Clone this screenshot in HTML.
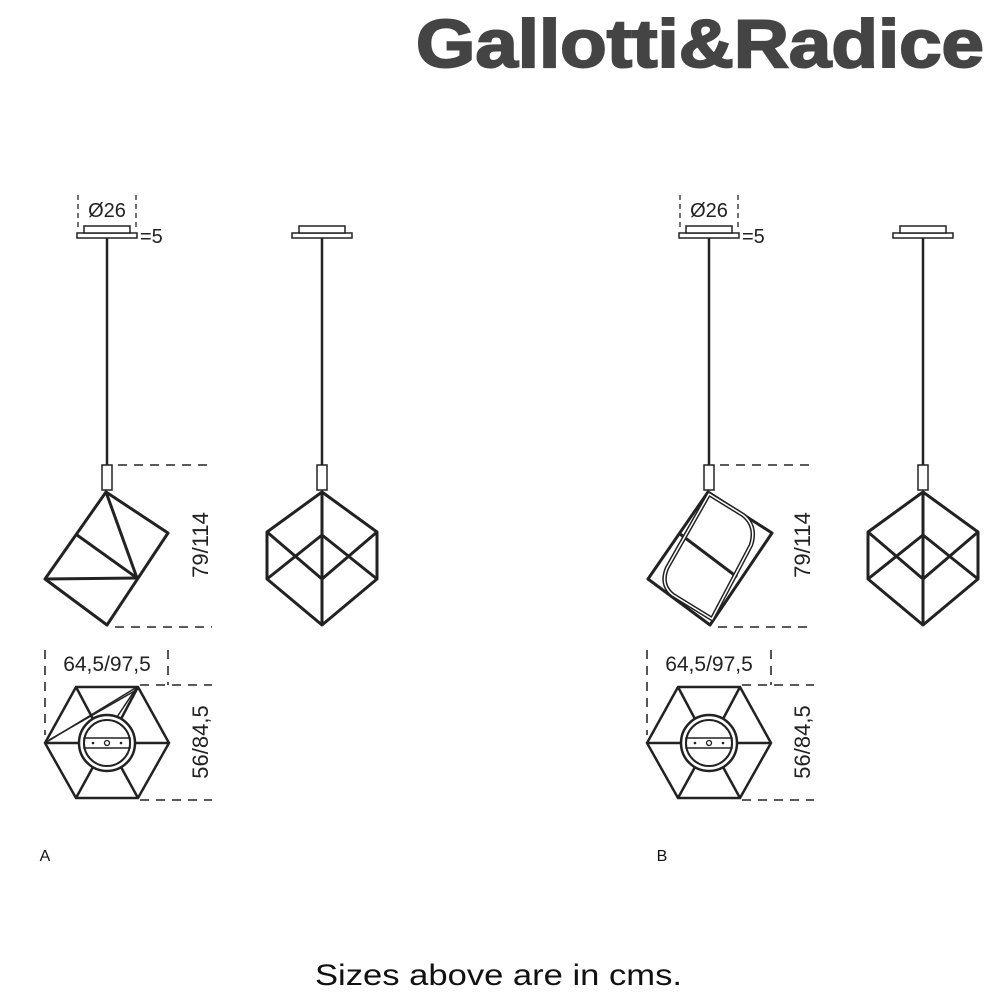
<!DOCTYPE html>
<html><head><meta charset="utf-8"><style>
html,body{margin:0;padding:0;background:#fff;}
svg{display:block;}
text{font-family:"Liberation Sans",Arial,sans-serif;}
</style></head><body>
<svg width="1000" height="1000" viewBox="0 0 1000 1000" xmlns="http://www.w3.org/2000/svg">
<rect width="1000" height="1000" fill="#fff"/>
<text x="416" y="67" font-size="68" font-weight="bold" fill="#444" stroke="#444" stroke-width="2" textLength="568" lengthAdjust="spacingAndGlyphs">Gallotti&amp;Radice</text>

<defs>
<g id="canopy">
  <rect x="-30" y="233" width="60" height="5" fill="#fff" stroke="#222" stroke-width="1.5"/>
  <rect x="-23" y="226" width="46" height="7" fill="#fff" stroke="#222" stroke-width="1.5"/>
  <line x1="0" y1="238" x2="0" y2="465" stroke="#222" stroke-width="2.5"/>
  <rect x="-5" y="465" width="10" height="25" fill="#fff" stroke="#222" stroke-width="1.5"/>
</g>
<g id="front">
  <g fill="none" stroke="#222" stroke-width="3" stroke-linejoin="round">
    <polygon points="0,492 55,532 55,579 0,625 -55,579 -55,532"/>
    <line x1="-55" y1="532" x2="0" y2="579"/><line x1="0" y1="579" x2="55" y2="532"/>
    <line x1="-55" y1="579" x2="0" y2="535"/><line x1="0" y1="535" x2="55" y2="579"/>
    <line x1="0" y1="492" x2="0" y2="625"/>
  </g>
</g>
<g id="top">
  <g fill="none" stroke="#222" stroke-width="2.5">
    <polygon points="-31,687 31,687 62,743 31,798 -31,798 -62,743"/>
    <line x1="-31" y1="687" x2="-14" y2="719"/><line x1="31" y1="687" x2="14" y2="719"/>
    <line x1="-31" y1="798" x2="-14" y2="767"/><line x1="31" y1="798" x2="14" y2="767"/>
    <line x1="-62" y1="743" x2="-28" y2="743"/><line x1="62" y1="743" x2="28" y2="743"/>
    <circle cx="0" cy="743" r="28" fill="#fff"/>
    <circle cx="0" cy="743" r="23" stroke-width="2"/>
    <rect x="-23" y="738" width="46" height="10" stroke-width="1.5"/>
    <circle cx="0" cy="743" r="2.5" stroke-width="1.3"/>
  </g>
  <circle cx="-14" cy="743" r="1.3" fill="#222"/><circle cx="14" cy="743" r="1.3" fill="#222"/>
</g>
</defs>

<!-- A -->
<g transform="translate(107,0)">
  <use href="#canopy"/>
  <g stroke="#444" stroke-width="1.5" stroke-dasharray="5,4"><line x1="-29" y1="195" x2="-29" y2="230"/><line x1="29" y1="195" x2="29" y2="230"/></g>
  <text x="0" y="217" font-size="20" text-anchor="middle" fill="#222">Ø26</text>
  <text x="33" y="243" font-size="20" fill="#222">=5</text>
</g>
<g fill="none" stroke="#222" stroke-width="3" stroke-linejoin="round">
  <polygon points="106,492 168,533 107,625 45,579"/>
  <line x1="77" y1="535" x2="137" y2="578"/>
  <line x1="106" y1="492" x2="137" y2="578"/>
  <line x1="45" y1="579" x2="137" y2="578"/>
</g>
<g transform="translate(322,0)"><use href="#canopy"/><use href="#front"/></g>
<g stroke="#444" stroke-width="1.8" stroke-dasharray="9,7">
  <line x1="118" y1="465" x2="212" y2="465"/><line x1="115" y1="627" x2="212" y2="627"/>
  <line x1="45" y1="650" x2="45" y2="735"/><line x1="168" y1="650" x2="168" y2="685"/>
  <line x1="140" y1="685" x2="212" y2="685"/><line x1="140" y1="800" x2="212" y2="800"/>
</g>
<text transform="translate(208,545) rotate(-90)" font-size="22" text-anchor="middle" fill="#222">79/114</text>
<text transform="translate(208,742) rotate(-90)" font-size="22" text-anchor="middle" fill="#222">56/84,5</text>
<text x="107" y="671" font-size="21" text-anchor="middle" fill="#222">64,5/97,5</text>
<g transform="translate(107,0)"><use href="#top"/></g>
<g fill="none" stroke="#222" stroke-width="1.5"><line x1="-62" y1="743" x2="30" y2="687" transform="translate(107,0)"/><line x1="-58" y1="740" x2="31" y2="689" transform="translate(107,0)"/><line x1="30" y1="687" x2="10" y2="717" transform="translate(107,0)"/></g>
<text x="45" y="861" font-size="16" text-anchor="middle" fill="#111">A</text>

<!-- B -->
<g transform="translate(709,0)">
  <use href="#canopy"/>
  <g stroke="#444" stroke-width="1.5" stroke-dasharray="5,4"><line x1="-29" y1="195" x2="-29" y2="230"/><line x1="29" y1="195" x2="29" y2="230"/></g>
  <text x="0" y="217" font-size="20" text-anchor="middle" fill="#222">Ø26</text>
  <text x="33" y="243" font-size="20" fill="#222">=5</text>
</g>
<g fill="none" stroke-linejoin="round">
  <polygon points="708,492 772,533 710,625 648,579" stroke="#222" stroke-width="3"/>
  <line x1="680" y1="534" x2="737" y2="577" stroke="#222" stroke-width="3"/>
  <path d="M709,494 L743,515 Q757,526 751,545 L712,619 L673,595 Q660,585 667,568 Z" stroke="#222" stroke-width="4.5"/>
  <path d="M709,494 L743,515 Q757,526 751,545 L712,619 L673,595 Q660,585 667,568 Z" stroke="#fff" stroke-width="1.5"/>
</g>
<g transform="translate(923,0)"><use href="#canopy"/><use href="#front"/></g>
<g stroke="#444" stroke-width="1.8" stroke-dasharray="9,7">
  <line x1="720" y1="465" x2="814" y2="465"/><line x1="718" y1="627" x2="814" y2="627"/>
  <line x1="647" y1="650" x2="647" y2="735"/><line x1="771" y1="650" x2="771" y2="685"/>
  <line x1="742" y1="685" x2="814" y2="685"/><line x1="742" y1="800" x2="814" y2="800"/>
</g>
<text transform="translate(810,545) rotate(-90)" font-size="22" text-anchor="middle" fill="#222">79/114</text>
<text transform="translate(810,742) rotate(-90)" font-size="22" text-anchor="middle" fill="#222">56/84,5</text>
<text x="709" y="671" font-size="21" text-anchor="middle" fill="#222">64,5/97,5</text>
<g transform="translate(709,0)"><use href="#top"/></g>
<text x="662" y="861" font-size="16" text-anchor="middle" fill="#111">B</text>

<text x="315" y="985" font-size="30" fill="#111" textLength="367" lengthAdjust="spacingAndGlyphs">Sizes above are in cms.</text>
</svg>
</body></html>
